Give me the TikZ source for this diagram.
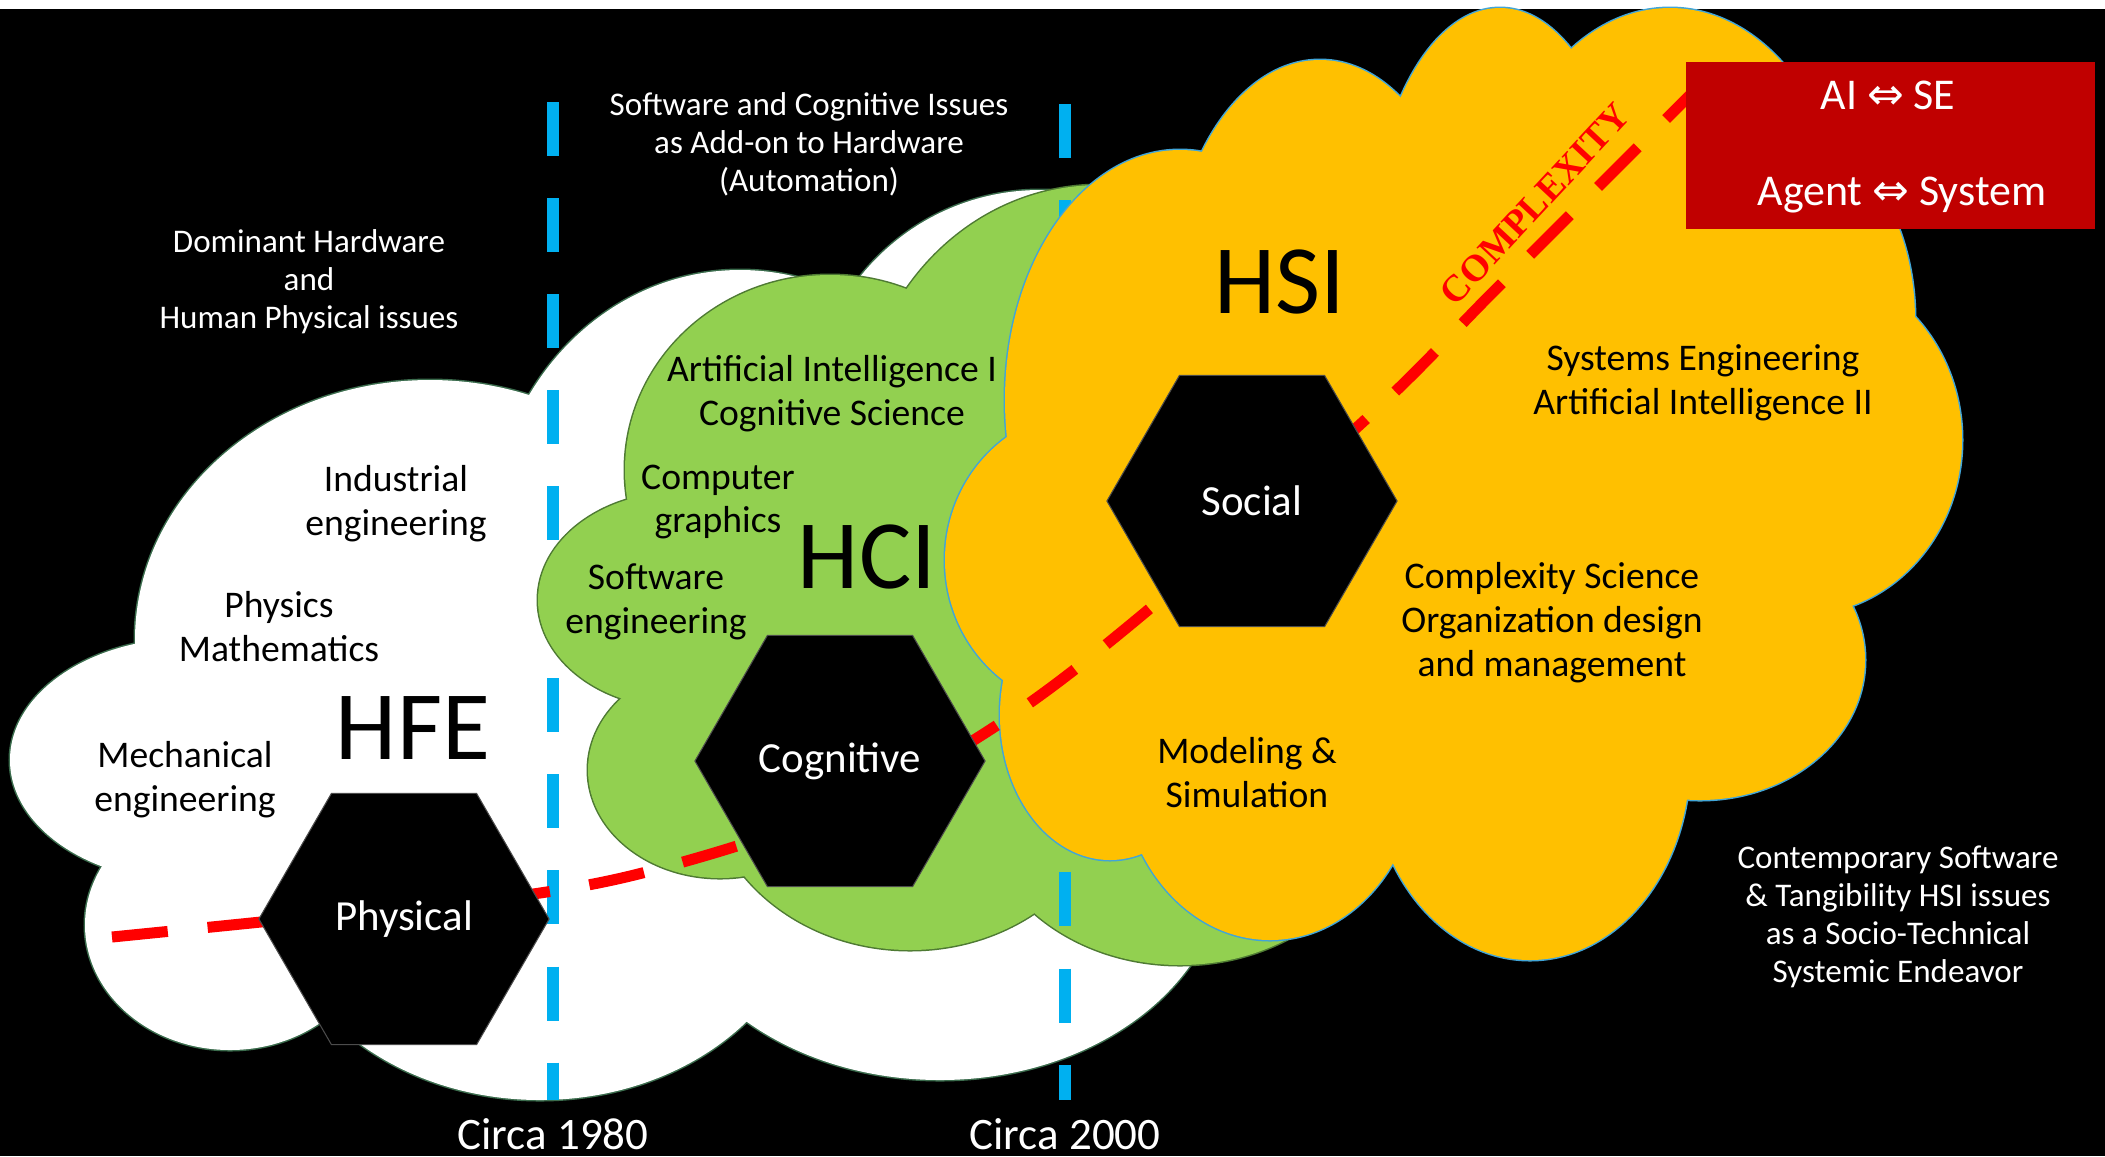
\documentclass[tikz,border=0pt]{standalone}
\usepackage{fontspec}
\setmainfont{Carlito}
\newfontfamily\symfont{DejaVu Sans}
\newfontfamily\stampfont{Liberation Serif}
\usetikzlibrary{shapes.geometric}
\definecolor{hfeedge}{HTML}{3A6B4C}
\definecolor{hcigreen}{HTML}{92D050}
\definecolor{hciedge}{HTML}{4E7A33}
\definecolor{hsiyellow}{HTML}{FFC000}
\definecolor{hsiedge}{HTML}{41A5D8}
\definecolor{eraline}{HTML}{00B0F0}
\definecolor{boxred}{HTML}{C00000}
\newcommand{\puffcloud}[3]{% fill, edge, lobes cx/cy/rx/ry
  \foreach \cx/\cy/\rx/\ry in {#3}
    \draw[#2, line width=0.03cm] (\cx,\cy) ellipse [x radius=\rx, y radius=\ry];
  \foreach \cx/\cy/\rx/\ry in {#3}
    \fill[#1] (\cx,\cy) ellipse [x radius=\rx, y radius=\ry];}
\tikzset{
hexa/.style={ % black hexagon with white label
regular polygon, regular polygon sides=6,
minimum size=2.9cm, inner sep=0pt,
fill=black, draw=black!70, line width=0.3pt,
text=white, font=\fontsize{12.2}{14}\selectfont},
field/.style={align=center, text=black,
font=\fontsize{10.7}{12.5}\selectfont},
era/.style={align=center, text=white,
font=\fontsize{9.4}{10.8}\selectfont},
acronym/.style={text=black, font=\fontsize{27.9}{30}\selectfont},
circa/.style={text=white, font=\fontsize{12.8}{14}\selectfont},
boxtext/.style={text=white, font=\fontsize{12.5}{14}\selectfont},
timeline/.style={ % blue dashed era border
draw=eraline, line width=0.12cm,
dash pattern=on 0.54cm off 0.42cm},
complexline/.style={ % red dashed complexity curve
draw=red, line width=0.11cm,
dash pattern=on 0.56cm off 0.4cm}}
\begin{document}
\begin{tikzpicture}[x=0.01cm, y=-0.01cm]
\useasboundingbox (0,0) rectangle (2105,1156);
\fill[black] (0,0) rectangle (2105,1156);
\fill[white] (0,0) rectangle (2105,9);
% HFE cloud
\puffcloud{white}{hfeedge}{190/760/180/122, 430/640/295/260, 740/540/250/270,
  1040/420/230/230, 230/925/145/125, 540/880/270/220, 940/860/285/220, 700/700/300/250}
\coordinate (t1top) at (553,102);
\coordinate (t1bot) at (553,1100);
\draw[timeline] (t1top) -- (t1bot);
% HCI cloud
\puffcloud{hcigreen}{hciedge}{830/470/205/195, 1100/440/240/255, 680/600/142/108,
  720/770/132/108, 910/770/205/180, 1180/800/200/165, 900/600/250/250}
\coordinate (t2top) at (1065,104);
\coordinate (t2bot) at (1065,1100);
\draw[timeline] (t2top) -- (t2bot);
% HSI cloud
\puffcloud{hsiyellow}{hsiedge}{1180/400/175/250, 1320/300/150/240, 1500/260/130/252,
  1670/258/180/250, 1770/320/145/200, 1800/440/162/175, 1700/660/165/140,
  1530/760/160/200, 1270/760/150/180, 1110/715/110/145, 1090/560/145/150,
  1450/500/350/300}
% complexity curve
\coordinate (cstart) at (112,937);
\coordinate (cend) at (1690,95);
\draw[complexline] plot[smooth, tension=0.6] coordinates {(cstart) (300,918) (540,893)
  (690,860) (850,805) (985,733) (1130,625) (1365,420) (1500,285) (cend)};
\node[rotate=47, text=red, font=\stampfont\bfseries\fontsize{10.7}{12}\selectfont]
  (cplx) at (1535,204) {COMPLEXITY};
% hexagons
\node[hexa] (phys) at (404,919) {Physical};
\node[hexa] (cogn) at (840,761) {Cognitive};
\node[hexa] (soc) at (1252,501) {Social};
% AI <-> SE box
\node[fill=boxred, minimum width=4.09cm, minimum height=1.67cm, inner sep=0pt,
  anchor=north west] (aibox) at (1685,61) {};
\node[boxtext] (aise) at (1888,95) {AI {\symfont ⇔} SE};
\node[boxtext] (agsys) at (1902,195) {Agent {\symfont ⇔} System};
% cloud labels
\node[acronym] (hfe) at (413,728) {HFE};
\node[acronym] (hci) at (867,557) {HCI};
\node[acronym] (hsi) at (1280,282) {HSI};
\node[field] (indeng) at (396,504) {Industrial\\engineering};
\node[field] (physmath) at (279,627) {Physics\\Mathematics};
\node[field] (mecheng) at (185,780) {Mechanical\\engineering};
\node[field] (aicog) at (832,394) {Artificial Intelligence I\\Cognitive Science};
\node[field] (compgr) at (718,502) {Computer\\graphics};
\node[field] (softeng) at (656,602) {Software\\engineering};
\node[field] (seai) at (1703,383) {Systems Engineering\\Artificial Intelligence II};
\node[field] (cplxsci) at (1552,623) {Complexity Science\\Organization design\\and management};
\node[field] (modsim) at (1247,773) {Modeling \&\\Simulation};
% era notes
\node[era] (hwnote) at (309,282) {Dominant Hardware\\and\\Human Physical issues};
\node[era] (swnote) at (809,144) {Software and Cognitive Issues\\as Add-on to Hardware\\(Automation)};
\node[era] (stnote) at (1898,917) {Contemporary Software\\\& Tangibility HSI issues\\as a Socio-Technical\\Systemic Endeavor};
\node[circa] (c1980) at (553,1134) {Circa 1980};
\node[circa] (c2000) at (1065,1134) {Circa 2000};
\end{tikzpicture}
\end{document}
